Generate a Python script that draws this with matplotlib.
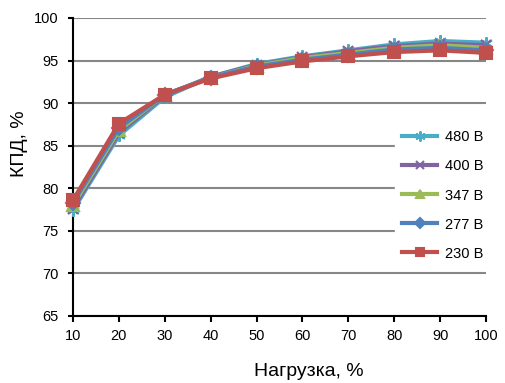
"""КПД в зависимости от нагрузки при разных напряжениях сети"""
import matplotlib
matplotlib.use("Agg")
import matplotlib.pyplot as plt

plt.rcParams['font.family'] = ['Liberation Sans', 'DejaVu Sans']

load = [10, 20, 30, 40, 50, 60, 70, 80, 90, 100]

eff_480 = [77.4, 86.2, 90.7, 93.1, 94.6, 95.5, 96.2, 96.9, 97.3, 97.1]
eff_400 = [77.6, 86.5, 90.9, 93.1, 94.5, 95.4, 96.1, 96.7, 97.0, 96.8]
eff_347 = [78.0, 86.8, 91.0, 93.0, 94.4, 95.3, 95.9, 96.5, 96.8, 96.5]
eff_277 = [78.3, 87.1, 91.0, 93.0, 94.3, 95.1, 95.7, 96.3, 96.5, 96.2]
eff_230 = [78.6, 87.6, 91.0, 92.9, 94.1, 94.9, 95.5, 96.0, 96.2, 95.9]

labels = ['480 В', '400 В', '347 В', '277 В', '230 В']
colors = ['#4BACC6', '#8064A2', '#9BBB59', '#4F81BD', '#C0504D']
markers = [(6, 2, 0), 'x', '^', 'D', 's']
msizes = [9, 7, 8, 7, 8]


def plotEfficiency(fig, ax):
    '''
    plotEfficiency draw one curve per voltage, 230 V on top
    '''
    series = [eff_480, eff_400, eff_347, eff_277, eff_230]
    for vals, lab, col, mk, ms in zip(series, labels, colors, markers, msizes):
        ax.plot(load, vals, color=col, lw=3, marker=mk, ms=ms,
                mfc=col, mec=col, mew=1.5, label=lab, clip_on=False, zorder=3)

    ax.set_xlim(10, 100)
    ax.set_ylim(65, 100)
    ax.set_xticks(load)
    ax.set_yticks(range(65, 101, 5))
    ax.yaxis.grid(True, color='#878787', lw=1.5)
    ax.set_axisbelow(True)

    for side in ['top', 'right']:
        ax.spines[side].set_visible(False)
    for side in ['left', 'bottom']:
        ax.spines[side].set_linewidth(1.5)
    ax.tick_params(axis='both', labelsize=10.5, width=1.5, direction='out')
    ax.tick_params(axis='x', length=4.5, pad=5)
    ax.tick_params(axis='y', length=3.6, pad=7)

    leg = ax.legend(loc='center left', bbox_to_anchor=(395 / 505, 1 - 195.5 / 383),
                    bbox_transform=fig.transFigure, frameon=True, fancybox=False,
                    edgecolor='white', facecolor='white', framealpha=1,
                    fontsize=10.5, handlelength=2.4, handletextpad=0.5,
                    labelspacing=1.03, borderpad=0.5, borderaxespad=0,
                    markerscale=0.8)
    leg.set_zorder(5)

    fig.text(19 / 505, 1 - 143.5 / 383, 'КПД, %', rotation=90,
             ha='center', va='center', fontsize=14)
    fig.text(309 / 505, 1 - 372 / 383, 'Нагрузка, %',
             ha='center', va='center', fontsize=14)


if __name__ == '__main__':
    fig = plt.figure(figsize=(5.05, 3.83), dpi=100)
    ax = fig.add_axes([73 / 505, 1 - 316 / 383, 413 / 505, 298 / 383])
    plotEfficiency(fig, ax)
    plt.savefig("out.png", dpi=100)
